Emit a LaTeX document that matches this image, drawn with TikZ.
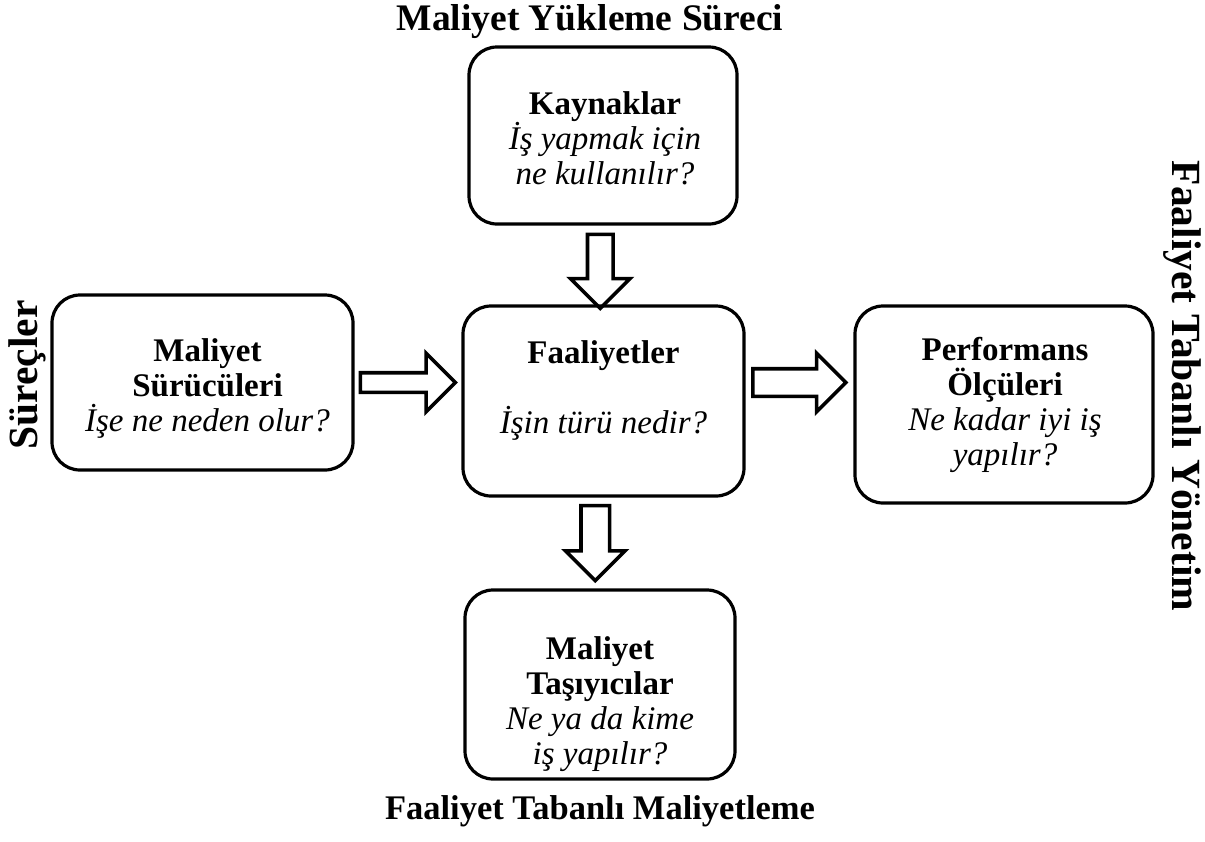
\documentclass[tikz,border=0pt]{standalone}
\usepackage{fontspec}
\setmainfont{Liberation Serif}
\usetikzlibrary{shapes.arrows,calc}
\begin{document}
\begin{tikzpicture}[x=1pt,y=-1pt,
  box/.style={draw, line width=3.2pt, rounded corners=28pt, inner sep=0pt},
  boxtext/.style={align=center, font=\fontsize{33}{35}\selectfont, inner sep=0pt},
  blockarrow/.style={draw, line width=3.6pt, single arrow, miter limit=4},
  sidehead/.style={font=\fontsize{41.5}{46}\selectfont\bfseries, inner sep=0pt},
]
\useasboundingbox (0,0) rectangle (1205,841);

% headings
\node[font=\fontsize{37.5}{40}\selectfont\bfseries, inner sep=0pt] (ust)
  at (590,22) {Maliyet Yükleme Süreci};
\node[font=\fontsize{34.5}{38}\selectfont\bfseries, inner sep=0pt] (alt)
  at (600,811) {Faaliyet Tabanlı Maliyetleme};
\node[sidehead, rotate=90] (sol) at (27,375) {Süreçler};
\node[sidehead, rotate=-90] (sag) at (1182,386) {Faaliyet Tabanlı Yönetim};

% boxes
\node[box, minimum width=268pt, minimum height=177pt] (kay) at (603,135.5) {};
\node[box, minimum width=301pt, minimum height=175pt] (sur) at (202.5,382.5) {};
\node[box, minimum width=281pt, minimum height=190pt] (fa) at (603.5,401) {};
\node[box, minimum width=298pt, minimum height=197pt] (per) at (1004,404.5) {};
\node[box, minimum width=270pt, minimum height=189pt] (ta) at (600,684.5) {};

% box texts
\node[boxtext] (kay-t) at ($(kay.center)+(2,2.5)$)
  {\textbf{Kaynaklar}\\\textit{İş yapmak için}\\\textit{ne kullanılır?}};
\node[boxtext] (sur-t) at ($(sur.center)+(5,5.5)$)
  {\textbf{Maliyet}\\\textbf{Sürücüleri}\\\textit{İşe ne neden olur?}};
\node[boxtext] (fa-t) at ($(fa.center)+(0,-11)$)
  {\textbf{Faaliyetler}\\[35pt]\textit{İşin türü nedir?}};
\node[boxtext] (per-t) at ($(per.center)+(1,0)$)
  {\textbf{Performans}\\\textbf{Ölçüleri}\\\textit{Ne kadar iyi iş}\\\textit{yapılır?}};
\node[boxtext] (ta-t) at ($(ta.center)+(0,20)$)
  {\textbf{Maliyet}\\\textbf{Taşıyıcılar}\\\textit{Ne ya da kime}\\\textit{iş yapılır?}};

% block arrows between the boxes
\node[blockarrow, inner sep=11pt, single arrow head extend=17pt,
      minimum height=74pt, rotate=-90] (a1)
  at ($(kay.south)!0.5!(fa.north)+(-3,0)$) {};
\node[blockarrow, inner sep=8pt, single arrow head extend=19.5pt,
      minimum height=95pt] (a2)
  at ($(sur.east)!0.5!(fa.west |- sur.east)+(-5,0)$) {};
\node[blockarrow, inner sep=12pt, single arrow head extend=15.5pt,
      minimum height=93pt] (a3)
  at ($(fa.east |- sur.east)!0.5!(per.west |- sur.east)+(-7,0)$) {};
\node[blockarrow, inner sep=12.5pt, single arrow head extend=15.5pt,
      minimum height=75pt, rotate=-90] (a4)
  at ($(fa.south)!0.5!(ta.north)+(-6.5,-7)$) {};
\end{tikzpicture}
\end{document}
